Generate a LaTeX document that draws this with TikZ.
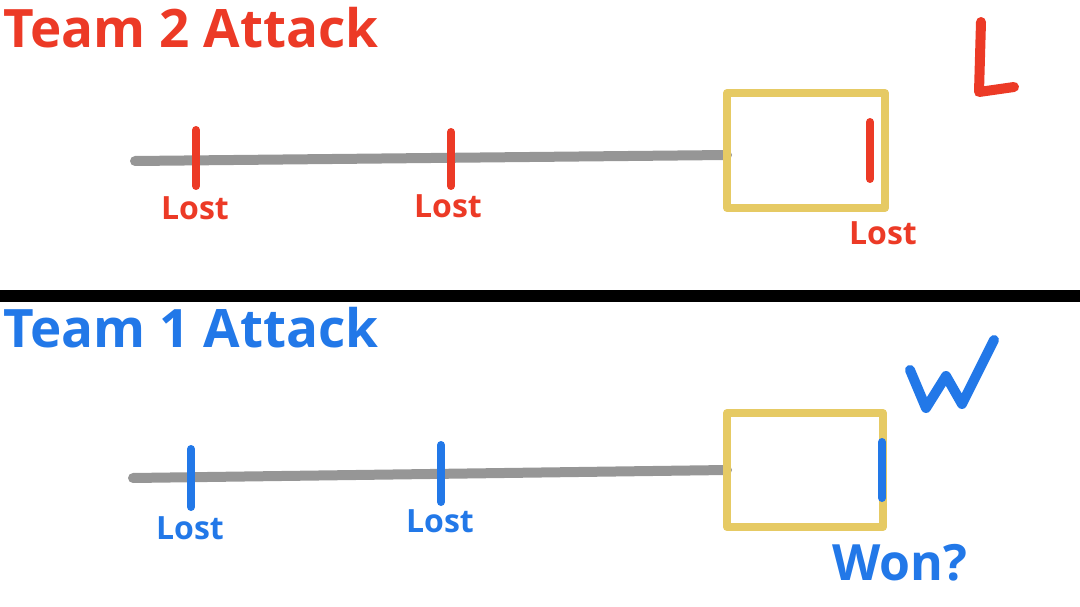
\documentclass[tikz,border=0pt]{standalone}
\usepackage{fontspec}
\setmainfont{Open Sans}
\definecolor{tred}{RGB}{236,58,38}
\definecolor{tblue}{RGB}{34,120,232}
\definecolor{tgray}{RGB}{150,150,150}
\definecolor{tyel}{RGB}{230,202,100}
\begin{document}
\begin{tikzpicture}[x=1pt,y=-1pt,
  track/.style={line width=10pt,tgray,line cap=round},
  tick/.style={line width=8pt,line cap=round},
  box/.style={line width=8pt,tyel,line join=round},
  lbl/.style={font=\fontsize{32}{34}\selectfont\bfseries},
  ttl/.style={font=\fontsize{53}{55}\selectfont\bfseries,anchor=west},
  hand/.style={line width=10pt,line cap=round,line join=round}]
\useasboundingbox (0,0) rectangle (1080,607);
\fill[black] (0,290) rectangle (1080,302);
% top
\node[ttl,tred] (t2) at (0,28) {Team 2 Attack};
\coordinate (a1) at (135,161); \coordinate (a2) at (727,155);
\draw[track] (a1) -- (a2);
\draw[box] (727,93) rectangle (885,208);
\draw[tick,tred] (196,130) -- (196,186);
\draw[tick,tred] (451,132) -- (451,186);
\draw[tick,tred] (870,122) -- (870,179);
\node[lbl,tred] (l1) at (195,208) {Lost};
\node[lbl,tred] (l2) at (448,206) {Lost};
\node[lbl,tred] (l3) at (883,233) {Lost};
\draw[hand,tred] (981,22) -- (979,92) -- (1014,87);
% bottom
\node[ttl,tblue] (t1) at (0,328) {Team 1 Attack};
\coordinate (b1) at (133,478); \coordinate (b2) at (727,470);
\draw[track] (b1) -- (b2);
\draw[box] (727,413) rectangle (883,527);
\draw[tick,tblue] (191,449) -- (191,507);
\draw[tick,tblue] (441,445) -- (441,502);
\draw[tick,tblue] (882,442) -- (882,498);
\node[lbl,tblue] (m1) at (190,528) {Lost};
\node[lbl,tblue] (m2) at (440,521) {Lost};
\draw[hand,tblue] (910,370) -- (926,408) -- (946,376) -- (962,404) -- (994,340);
\node[font=\fontsize{50}{52}\selectfont\bfseries,tblue] (won) at (900,563) {Won?};
\end{tikzpicture}
\end{document}
